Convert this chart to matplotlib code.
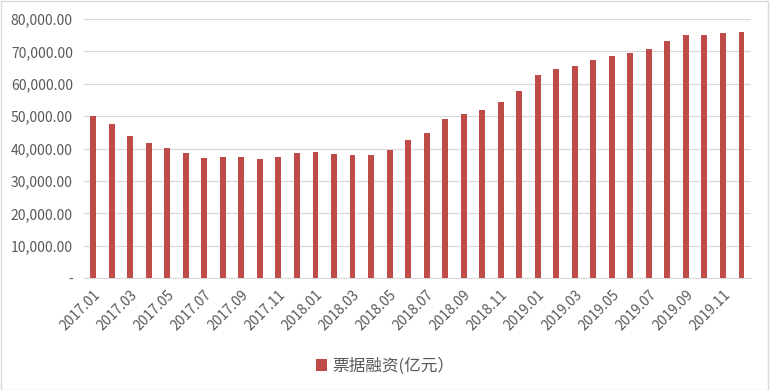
import matplotlib.pyplot as plt
import numpy as np
from matplotlib.ticker import FuncFormatter

plt.rcParams['font.family'] = ['Noto Sans CJK SC', 'DejaVu Sans']

# 月份
months = [f"{y}.{m:02d}" for y in (2017, 2018, 2019) for m in range(1, 13)]
# 票据融资(亿元)
values = [50000, 47600, 43900, 41700, 40200, 38600, 37100, 37500, 37500, 36800, 37500, 38600,
          38900, 38300, 38000, 38000, 39500, 42600, 44800, 49100, 50700, 51900, 54400, 57800,
          62700, 64600, 65500, 67300, 68600, 69500, 70700, 73200, 75100, 75100, 75700, 76000]
legend_label = "票据融资(亿元）"

bar_color = "#BE4B48"
text_color = "#595959"

fig = plt.figure(figsize=(7.7, 3.9), dpi=100)
ax = fig.add_axes([0.109, 0.287, 0.866, 0.664])

x = np.arange(len(months))
ax.bar(x, values, width=0.32, color=bar_color, label=legend_label, zorder=3)

ax.set_ylim(0, 80000)
ax.set_yticks(np.arange(0, 80001, 10000))
ax.yaxis.set_major_formatter(FuncFormatter(lambda v, p: "-" if v == 0 else f"{v:,.2f}"))
ax.set_xlim(-0.5, len(months) - 0.5)
ax.set_xticks(x[::2])
ax.set_xticklabels(months[::2], rotation=45, ha='right', rotation_mode='anchor')

ax.grid(axis='y', color='#D9D9D9', linewidth=0.9, zorder=0)
for s in ['top', 'left', 'right']:
    ax.spines[s].set_visible(False)
ax.spines['bottom'].set_color('#D9D9D9')
ax.tick_params(axis='both', length=0, colors=text_color, labelsize=10)
ax.tick_params(axis='y', pad=8)
ax.tick_params(axis='x', pad=7)

fig.legend(loc='lower center', bbox_to_anchor=(0.5, 0.0), frameon=False,
           fontsize=12, handlelength=0.7, handleheight=0.7, handletextpad=0.3,
           labelcolor=text_color)

fig.patches.append(plt.Rectangle((0.001, 0.001), 0.997, 0.997, transform=fig.transFigure,
                                 fill=False, edgecolor='#D9D9D9', linewidth=1))

fig.savefig("out.png", dpi=100, facecolor='white')
